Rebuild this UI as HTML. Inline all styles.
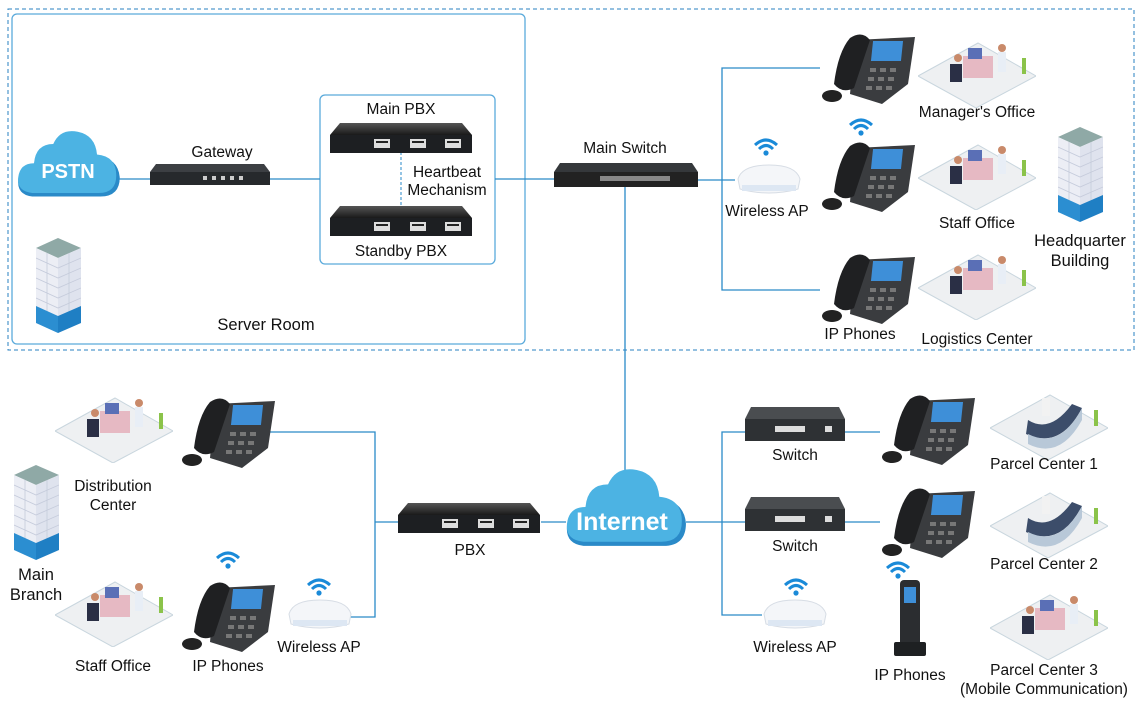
<!DOCTYPE html>
<html><head><meta charset="utf-8"><style>
html,body{margin:0;padding:0;background:#fff;width:1141px;height:701px;overflow:hidden}
text{font-family:"Liberation Sans",sans-serif;fill:#111;font-size:15.5px}
</style></head><body>
<svg width="1141" height="701" viewBox="0 0 1141 701" xmlns="http://www.w3.org/2000/svg">
<defs>
<linearGradient id="dev" x1="0" y1="0" x2="0" y2="1"><stop offset="0" stop-color="#555"/><stop offset="1" stop-color="#1a1a1a"/></linearGradient>
<symbol id="pbx" viewBox="0 0 142 30" width="142" height="30">
 <polygon points="10,0 132,0 142,12 0,12" fill="url(#dev)"/>
 <rect x="0" y="12" width="142" height="18" fill="#1d1f22"/>
 <g fill="#ddd"><rect x="44" y="16" width="16" height="9"/><rect x="80" y="16" width="16" height="9"/><rect x="115" y="16" width="16" height="9"/></g>
 <g fill="#222"><rect x="46" y="18" width="12" height="2"/><rect x="82" y="18" width="12" height="2"/><rect x="117" y="18" width="12" height="2"/></g>
</symbol>
<symbol id="sw" viewBox="0 0 100 34" width="100" height="34">
 <polygon points="6,0 94,0 100,12 0,12" fill="#4a4d50"/>
 <rect x="0" y="12" width="100" height="22" fill="#2e3134"/>
 <rect x="30" y="19" width="30" height="6" fill="#ddd"/><rect x="80" y="19" width="7" height="6" fill="#ddd"/>
</symbol>
<symbol id="phone" viewBox="0 0 95 75" width="95" height="75">
 <polygon points="35,8 95,5 88,52 62,72 30,62" fill="#3a3c3f"/>
 <rect x="54" y="9" width="30" height="20" fill="#3e8fd8" transform="skewX(-6)"/>
 <g fill="#777"><rect x="50" y="36" width="6" height="4"/><rect x="60" y="36" width="6" height="4"/><rect x="70" y="36" width="6" height="4"/><rect x="48" y="45" width="6" height="4"/><rect x="58" y="45" width="6" height="4"/><rect x="68" y="45" width="6" height="4"/><rect x="46" y="54" width="6" height="4"/><rect x="56" y="54" width="6" height="4"/><rect x="66" y="54" width="6" height="4"/></g>
 <path d="M30,6 Q42,-2 50,8 L34,56 Q22,62 14,52 Q18,20 30,6Z" fill="#1f2022"/>
 <ellipse cx="12" cy="64" rx="10" ry="6" fill="#222"/>
</symbol>
<symbol id="office" viewBox="0 0 118 70" width="118" height="70">
 <polygon points="0,38 60,5 118,38 58,70" fill="#eef0f2" stroke="#c9d6de"/>
 <rect x="45" y="18" width="30" height="22" fill="#e6b9c3"/>
 <rect x="50" y="10" width="14" height="11" fill="#5a6fb6"/>
 <rect x="32" y="26" width="12" height="18" fill="#2a2f45"/>
 <circle cx="40" cy="20" r="4" fill="#c98a6a"/>
 <rect x="80" y="14" width="8" height="20" fill="#e8eef6"/>
 <circle cx="84" cy="10" r="4" fill="#c98a6a"/>
 <rect x="104" y="20" width="4" height="16" fill="#8bc34a"/>
</symbol>
<symbol id="parcel" viewBox="0 0 118 70" width="118" height="70">
 <polygon points="0,38 60,5 118,38 58,70" fill="#eef0f2" stroke="#c9d6de"/>
 <path d="M38,30 Q60,44 82,14 L92,18 Q70,60 36,44Z" fill="#3c4d6a"/>
 <path d="M38,44 Q70,60 92,18 L92,30 Q70,70 38,54Z" fill="#b8c8d8"/>
 <rect x="52" y="8" width="8" height="18" fill="#f2f2f2"/>
 <rect x="104" y="20" width="4" height="16" fill="#8bc34a"/>
</symbol>
<symbol id="bldg" viewBox="0 0 45 95" width="45" height="95">
 <polygon points="0,10 22,0 45,10 22,20" fill="#8fa9a6"/>
 <polygon points="0,10 22,20 22,95 0,85" fill="#eceef5"/>
 <polygon points="22,20 45,10 45,85 22,95" fill="#dfe3ee"/>
 <g stroke="#c5cbdb" stroke-width="0.8" fill="none"><path d="M0,20 L22,30 L45,20 M0,30 L22,40 L45,30 M0,40 L22,50 L45,40 M0,50 L22,60 L45,50 M0,60 L22,70 L45,60 M11,15 V90 M33,15 V90"/></g>
 <polygon points="0,68 22,78 22,95 0,85" fill="#2b8ed1"/>
 <polygon points="22,78 45,68 45,85 22,95" fill="#1f7fc4"/>
</symbol>
<symbol id="ap" viewBox="0 0 70 32" width="70" height="32">
 <path d="M4,16 Q8,2 35,2 Q62,2 66,16 L64,26 Q35,34 6,26Z" fill="#f4f6f9" stroke="#d7dde5"/>
 <rect x="8" y="22" width="54" height="6" fill="#dde7f3"/>
</symbol>
<symbol id="wifi" viewBox="0 0 26 20" width="26" height="20">
 <path d="M2,8 Q13,-2 24,8" stroke="#1a8ad8" stroke-width="3" fill="none"/>
 <path d="M6,12 Q13,5 20,12" stroke="#1a8ad8" stroke-width="3" fill="none"/>
 <circle cx="13" cy="16" r="2.6" fill="#1a8ad8"/>
</symbol>
<symbol id="cloud" viewBox="0 0 120 80" width="120" height="80">
 <path d="M18,76 Q0,74 2,56 Q4,40 20,40 Q22,18 42,18 Q50,0 70,4 Q90,8 92,30 Q116,32 118,54 Q118,76 96,76Z" fill="#2a8ac8"/>
 <path d="M18,72 Q0,70 2,54 Q4,38 20,38 Q22,16 42,16 Q50,-2 70,2 Q90,6 92,28 Q114,30 114,52 Q114,72 94,72Z" fill="#4cb3e3"/>
</symbol>
</defs>

<rect x="8" y="9" width="1126" height="341" fill="none" stroke="#2a80c0" stroke-dasharray="4,3"/>
<rect x="12" y="14" width="513" height="330" rx="5" fill="none" stroke="#5aaadb" stroke-width="1.3"/>
<rect x="320" y="95" width="175" height="169" rx="5" fill="none" stroke="#5aaadb" stroke-width="1.3"/>

<g stroke="#2a8ac8" stroke-width="1.3" fill="none">
 <path d="M110,179 H150 M268,179 H320 M495,179 H555 M698,180 H735"/>
 <path d="M820,68 H722 V290 H820"/>
 <path d="M625,187 V472"/>
 <path d="M266,432 H375 V617 H350 M375,522 H398 M541,522 H566"/>
 <path d="M686,522 H722 M845,432 H722 V615 H762 M745,432 H722 M722,522 H745 M845,522 H880 M845,432 H880"/>
</g>
<line x1="401" y1="152" x2="401" y2="206" stroke="#2a8ac8" stroke-dasharray="3,2"/>

<use href="#cloud" x="14" y="130" width="110" height="70"/>
<text x="68" y="178" text-anchor="middle" style="fill:#fff;font-weight:bold;font-size:20px">PSTN</text>
<polygon points="156,164 264,164 270,172 150,172" fill="#3c3f43"/>
<rect x="150" y="172" width="120" height="13" fill="#26292c"/>
<g fill="#ccc"><rect x="203" y="176" width="4" height="4"/><rect x="212" y="176" width="4" height="4"/><rect x="221" y="176" width="4" height="4"/><rect x="230" y="176" width="4" height="4"/><rect x="239" y="176" width="4" height="4"/></g>
<text x="222" y="157" text-anchor="middle">Gateway</text>
<use href="#pbx" x="330" y="123"/>
<use href="#pbx" x="330" y="206"/>
<text x="401" y="114" text-anchor="middle">Main PBX</text>
<text x="447" y="177" text-anchor="middle">Heartbeat</text>
<text x="447" y="195" text-anchor="middle">Mechanism</text>
<text x="401" y="256" text-anchor="middle">Standby PBX</text>
<use href="#bldg" x="36" y="238"/>
<text x="266" y="330" text-anchor="middle" style="font-size:16.5px">Server Room</text>

<polygon points="560,163 692,163 698,172 554,172" fill="#35383b"/>
<rect x="554" y="172" width="144" height="15" fill="#222"/>
<rect x="600" y="176" width="70" height="5" fill="#888"/>
<text x="625" y="153" text-anchor="middle">Main Switch</text>

<use href="#wifi" x="753" y="137"/>
<use href="#ap" x="734" y="163"/>
<text x="767" y="216" text-anchor="middle">Wireless AP</text>
<use href="#phone" x="820" y="32"/>
<use href="#wifi" x="848" y="117"/>
<use href="#phone" x="820" y="140"/>
<use href="#phone" x="820" y="252"/>
<text x="860" y="339" text-anchor="middle">IP Phones</text>
<use href="#office" x="918" y="38"/>
<text x="977" y="117" text-anchor="middle">Manager's Office</text>
<use href="#office" x="918" y="140"/>
<text x="977" y="228" text-anchor="middle">Staff Office</text>
<use href="#office" x="918" y="250"/>
<text x="977" y="344" text-anchor="middle">Logistics Center</text>
<use href="#bldg" x="1058" y="127"/>
<text x="1080" y="246" text-anchor="middle" style="font-size:16.5px">Headquarter</text>
<text x="1080" y="266" text-anchor="middle" style="font-size:16.5px">Building</text>

<use href="#cloud" x="563" y="468" width="127" height="82"/>
<text x="622" y="530" text-anchor="middle" style="fill:#fff;font-weight:bold;font-size:25px">Internet</text>

<use href="#pbx" x="398" y="503"/>
<text x="470" y="555" text-anchor="middle">PBX</text>
<use href="#office" x="55" y="393"/>
<text x="113" y="491" text-anchor="middle">Distribution</text>
<text x="113" y="510" text-anchor="middle">Center</text>
<use href="#phone" x="180" y="396"/>
<use href="#bldg" x="14" y="465"/>
<text x="36" y="580" text-anchor="middle" style="font-size:16.5px">Main</text>
<text x="36" y="600" text-anchor="middle" style="font-size:16.5px">Branch</text>
<use href="#office" x="55" y="577"/>
<text x="113" y="671" text-anchor="middle">Staff Office</text>
<use href="#wifi" x="215" y="550"/>
<use href="#phone" x="180" y="580"/>
<text x="228" y="671" text-anchor="middle">IP Phones</text>
<use href="#wifi" x="306" y="577"/>
<use href="#ap" x="285" y="598"/>
<text x="319" y="652" text-anchor="middle">Wireless AP</text>

<use href="#sw" x="745" y="407"/>
<text x="795" y="460" text-anchor="middle">Switch</text>
<use href="#sw" x="745" y="497"/>
<text x="795" y="551" text-anchor="middle">Switch</text>
<use href="#wifi" x="783" y="577"/>
<use href="#ap" x="760" y="598"/>
<text x="795" y="652" text-anchor="middle">Wireless AP</text>
<use href="#phone" x="880" y="393"/>
<use href="#phone" x="880" y="486"/>
<use href="#wifi" x="885" y="560"/>
<rect x="900" y="580" width="20" height="70" rx="4" fill="#2b2d30"/>
<rect x="904" y="587" width="12" height="16" fill="#3e8fd8"/>
<rect x="894" y="642" width="32" height="14" rx="2" fill="#1e2022"/>
<text x="910" y="680" text-anchor="middle">IP Phones</text>
<use href="#parcel" x="990" y="390"/>
<text x="1044" y="469" text-anchor="middle">Parcel Center 1</text>
<use href="#parcel" x="990" y="488"/>
<text x="1044" y="569" text-anchor="middle">Parcel Center 2</text>
<use href="#office" x="990" y="590"/>
<text x="1044" y="675" text-anchor="middle">Parcel Center 3</text>
<text x="1044" y="694" text-anchor="middle">(Mobile Communication)</text>
</svg>
</body></html>
